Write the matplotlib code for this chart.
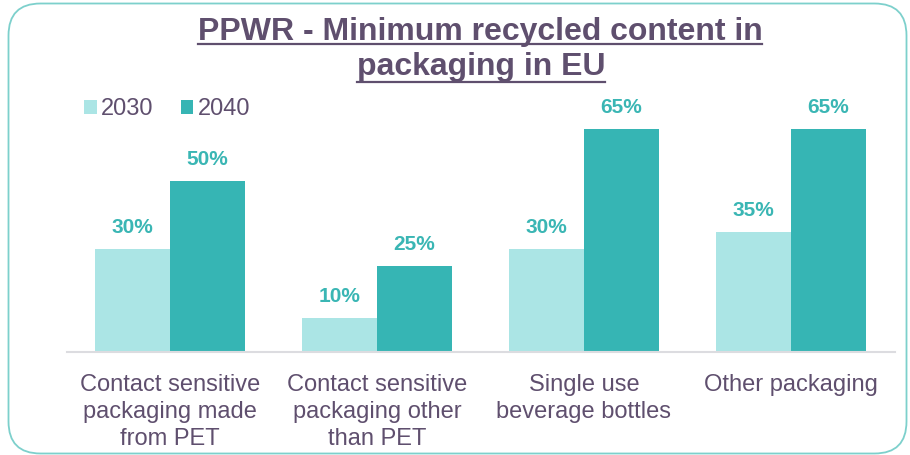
import matplotlib
matplotlib.use('Agg')
import matplotlib.pyplot as plt
from matplotlib.patches import FancyBboxPatch
from matplotlib.lines import Line2D
from matplotlib.transforms import IdentityTransform
import numpy as np

categories = ["Contact sensitive\npackaging made\nfrom PET",
              "Contact sensitive\npackaging other\nthan PET",
              "Single use\nbeverage bottles",
              "Other packaging"]
series_names = ["2030", "2040"]
values_2030 = [30, 10, 30, 35]
values_2040 = [50, 25, 65, 65]
title_lines = ["PPWR - Minimum recycled content in", "packaging in EU"]

plt.rcParams['font.family'] = ['Liberation Sans', 'DejaVu Sans']

W, H = 910, 455
TXT = '#5f4f6e'
C_LIGHT = '#abe5e5'
C_DARK = '#36b5b4'
C_LABEL = '#3ab6b4'

fig = plt.figure(figsize=(9.1, 4.55), dpi=100)

def fx(px):
    return px / W

def fy(py):
    return 1 - py / H

# rounded border (pixel coordinates)
border = FancyBboxPatch((8.5, H - 453.5), 898, 450,
                        boxstyle="round,pad=0,rounding_size=32",
                        transform=IdentityTransform(), fill=False,
                        edgecolor='#7dd0cc', linewidth=1.3)
fig.patches.append(border)

ax = fig.add_axes([fx(66.5), fy(352), 828 / W, (352 - 112) / H])
x = np.arange(len(categories))
w = 75 / 207
b1 = ax.bar(x - w / 2, values_2030, w, color=C_LIGHT, label=series_names[0])
b2 = ax.bar(x + w / 2, values_2040, w, color=C_DARK, label=series_names[1])
ax.set_xlim(-0.5, len(categories) - 0.5)
ax.set_ylim(0, 70)

for bars, vals in ((b1, values_2030), (b2, values_2040)):
    for r, v in zip(bars, vals):
        ax.annotate(f"{v}%", (r.get_x() + r.get_width() / 2, r.get_height()),
                    xytext=(0, 16), textcoords='offset pixels',
                    ha='center', va='baseline', fontsize=15,
                    fontweight='bold', color=C_LABEL)

for s in ('top', 'left', 'right'):
    ax.spines[s].set_visible(False)
ax.spines['bottom'].set_color('#dcdce0')
ax.spines['bottom'].set_linewidth(1.5)
ax.set_yticks([])
ax.set_xticks(x, categories)
ax.tick_params(axis='x', length=0, pad=15.5, labelsize=17, labelcolor=TXT)
for t in ax.get_xticklabels():
    t.set_linespacing(1.31)

leg = fig.legend(handles=[b1, b2], labels=series_names, loc='center left',
                 bbox_to_anchor=(fx(84), fy(109)), ncol=2, frameon=False,
                 fontsize=17, handlelength=0.53, handleheight=0.53,
                 handletextpad=0.2, columnspacing=1.15, borderpad=0,
                 borderaxespad=0)
for t in leg.get_texts():
    t.set_color(TXT)

t1 = fig.text(fx(480), fy(40), title_lines[0], ha='center', va='baseline',
              fontsize=23, fontweight='bold', color=TXT)
t2 = fig.text(fx(481), fy(74.5), title_lines[1], ha='center', va='baseline',
              fontsize=23, fontweight='bold', color=TXT)

fig.canvas.draw()
r = fig.canvas.get_renderer()
for t, uy in ((t1, 43.5), (t2, 81.5)):
    bb = t.get_window_extent(r)
    fig.lines.append(Line2D([bb.x0, bb.x1], [H - uy, H - uy],
                            transform=IdentityTransform(), color=TXT,
                            linewidth=1.6))

fig.savefig('out.png', dpi=100)
